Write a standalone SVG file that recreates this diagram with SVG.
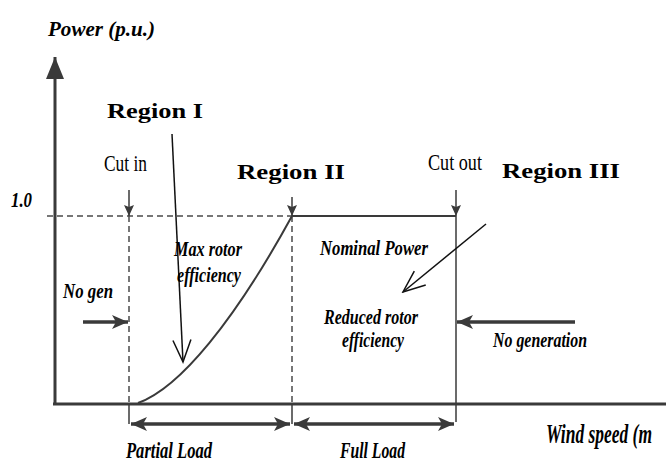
<svg xmlns="http://www.w3.org/2000/svg" width="666" height="462" viewBox="0 0 666 462">
<defs>
<marker id="fa" markerUnits="userSpaceOnUse" markerWidth="18" markerHeight="14" refX="16" refY="7" orient="auto-start-reverse">
<path d="M0,0 L16,7 L0,14 L4,7 Z" fill="#3a3a3a"/>
</marker>
<marker id="sa" markerUnits="userSpaceOnUse" markerWidth="12" markerHeight="10" refX="11" refY="5" orient="auto">
<path d="M0,0 L11,5 L0,10 L2,5 Z" fill="#3a3a3a"/>
</marker>
<marker id="oa" markerUnits="userSpaceOnUse" markerWidth="26" markerHeight="22" refX="24" refY="11" orient="auto">
<path d="M2,2 L24,11 L2,20" fill="none" stroke="#111" stroke-width="1.5"/>
</marker>
<marker id="ax" markerUnits="userSpaceOnUse" markerWidth="24" markerHeight="18" refX="22" refY="9" orient="auto">
<path d="M0,0 L22,9 L0,18 Z" fill="#3a3a3a"/>
</marker>
</defs>
<style>
.ax{stroke:#3a3a3a;stroke-width:3;fill:none}
.ln{stroke:#3a3a3a;stroke-width:2;fill:none}
.th{stroke:#3a3a3a;stroke-width:1.5;fill:none}
.dash{stroke:#4a4a4a;stroke-width:1.5;fill:none;stroke-dasharray:6 4}
.bar{stroke:#3a3a3a;stroke-width:3.5;fill:none}
.thin{stroke:#111;stroke-width:1.5;fill:none}
.t{font-family:"Liberation Serif",serif;fill:#000}
.bi{font-weight:bold;font-style:italic}
.b{font-weight:bold}
</style>
<g id="connectors">
<line class="ax" x1="55" y1="404" x2="55" y2="57" marker-end="url(#ax)"/>
<line class="ax" x1="53" y1="404" x2="666" y2="404"/>
<line class="dash" x1="47" y1="216" x2="292" y2="216"/>
<line class="ln" x1="292" y1="216" x2="456" y2="216"/>
<line class="th" x1="456" y1="216" x2="456" y2="422"/>
<line class="dash" x1="129" y1="216" x2="129" y2="404"/>
<line class="th" x1="129" y1="404" x2="129" y2="424"/>
<line class="dash" x1="292" y1="216" x2="292" y2="404"/>
<line class="th" x1="292" y1="404" x2="292" y2="424"/>
<path class="ln" d="M138,403 C180,388 235,320 292,216"/>
<line class="th" x1="129" y1="190" x2="129" y2="216" marker-end="url(#sa)"/>
<line class="th" x1="292" y1="197" x2="292" y2="216" marker-end="url(#sa)"/>
<line class="th" x1="456" y1="190" x2="456" y2="216" marker-end="url(#sa)"/>
<line class="bar" x1="83" y1="322" x2="128" y2="322" marker-end="url(#fa)"/>
<line class="bar" x1="575" y1="322" x2="457" y2="322" marker-end="url(#fa)"/>
<line class="bar" x1="131" y1="424" x2="290" y2="424" marker-start="url(#fa)" marker-end="url(#fa)"/>
<line class="bar" x1="294" y1="424" x2="454" y2="424" marker-start="url(#fa)" marker-end="url(#fa)"/>
<line class="thin" x1="172" y1="134" x2="183" y2="362" marker-end="url(#oa)"/>
<line class="thin" x1="486" y1="224" x2="403" y2="292" marker-end="url(#oa)"/>
</g>
<g id="axis-labels">
<text class="t bi" x="48" y="36" font-size="22" textLength="107" lengthAdjust="spacingAndGlyphs">Power (p.u.)</text>
<text class="t bi" x="11" y="207" font-size="21" textLength="21" lengthAdjust="spacingAndGlyphs">1.0</text>
<text class="t bi" x="546" y="443" font-size="27" textLength="106" lengthAdjust="spacingAndGlyphs">Wind speed (m</text>
</g>
<g id="region1"><text class="t b" x="107" y="118" font-size="22" textLength="96" lengthAdjust="spacingAndGlyphs">Region  I</text></g>
<g id="region2"><text class="t b" x="237" y="179" font-size="22" textLength="108" lengthAdjust="spacingAndGlyphs">Region  II</text></g>
<g id="region3"><text class="t b" x="502" y="178" font-size="22" textLength="118" lengthAdjust="spacingAndGlyphs">Region  III</text></g>
<g id="cut-in"><text class="t" x="104" y="171" font-size="23" textLength="43" lengthAdjust="spacingAndGlyphs">Cut in</text></g>
<g id="cut-out"><text class="t" x="428" y="170" font-size="23" textLength="54" lengthAdjust="spacingAndGlyphs">Cut out</text></g>
<g id="max-rotor">
<text class="t bi" x="174" y="256" font-size="21" textLength="68" lengthAdjust="spacingAndGlyphs">Max rotor</text>
<text class="t bi" x="177" y="282" font-size="21" textLength="64" lengthAdjust="spacingAndGlyphs">efficiency</text>
</g>
<g id="no-gen"><text class="t bi" x="63" y="298" font-size="22" textLength="50" lengthAdjust="spacingAndGlyphs">No gen</text></g>
<g id="nominal"><text class="t bi" x="320" y="255" font-size="21" textLength="108" lengthAdjust="spacingAndGlyphs">Nominal Power</text></g>
<g id="reduced">
<text class="t bi" x="324" y="324" font-size="20" textLength="94" lengthAdjust="spacingAndGlyphs">Reduced rotor</text>
<text class="t bi" x="342" y="347" font-size="20" textLength="62" lengthAdjust="spacingAndGlyphs">efficiency</text>
</g>
<g id="no-generation"><text class="t bi" x="493" y="347" font-size="22" textLength="94" lengthAdjust="spacingAndGlyphs">No generation</text></g>
<g id="partial-load"><text class="t bi" x="126" y="458" font-size="23" textLength="86" lengthAdjust="spacingAndGlyphs">Partial Load</text></g>
<g id="full-load"><text class="t bi" x="340" y="458" font-size="23" textLength="65" lengthAdjust="spacingAndGlyphs">Full Load</text></g>
</svg>
